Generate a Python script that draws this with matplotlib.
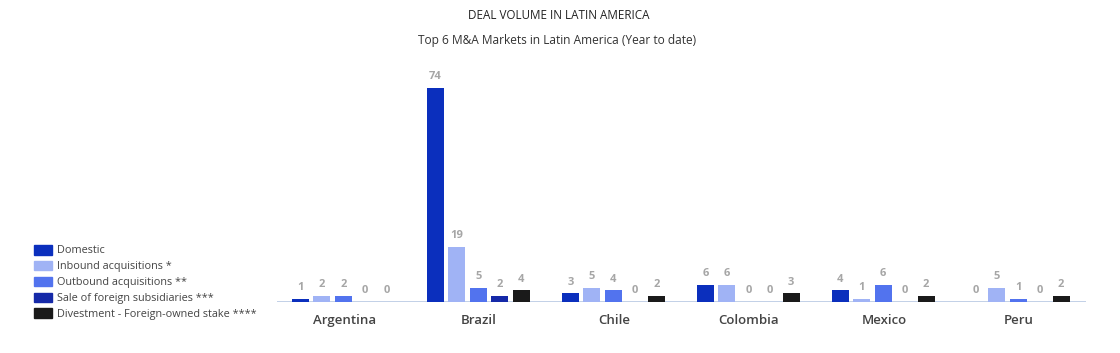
import matplotlib.pyplot as plt
import matplotlib.patches as mpatches
import numpy as np

plt.rcParams['font.family'] = ['Open Sans', 'DejaVu Sans']

countries = ["Argentina", "Brazil", "Chile", "Colombia", "Mexico", "Peru"]
series_names = ["Domestic", "Inbound acquisitions *", "Outbound acquisitions **",
                "Sale of foreign subsidiaries ***", "Divestment - Foreign-owned stake ****"]
domestic = [1, 74, 3, 6, 4, 0]
inbound = [2, 19, 5, 6, 1, 5]
outbound = [2, 5, 4, 0, 6, 1]
sale_foreign = [0, 2, 0, 0, 0, 0]
divestment = [0, 4, 2, 3, 2, 2]
colors = ["#0b2fbd", "#a0b3f5", "#5273ee", "#1529a8", "#1a1a1a"]

series = [domestic, inbound, outbound, sale_foreign, divestment]

fig = plt.figure(figsize=(11.2, 3.53), dpi=100)
ax = fig.add_axes([0.247, 0.1445, 0.723, 0.655])

x = np.arange(len(countries))
width = 0.126
step = 0.159
ax.axhline(0, color="#b7c8e3", lw=1.2, zorder=1)
for i, (vals, c) in enumerate(zip(series, colors)):
    pos = x + (i - 2) * step - 0.005
    ax.bar(pos, vals, width=width, color=c, zorder=2)
    for p, v in zip(pos, vals):
        ax.text(p, v + 2.0, str(v), ha="center", va="bottom", fontsize=8,
                color="#a6a6a6", fontweight="bold")

ax.set_xlim(-0.5, 5.5)
ax.set_ylim(0, 80)
ax.set_xticks(x)
ax.set_xticklabels(countries, fontsize=9.5, color="#444444", fontweight="semibold")
ax.tick_params(axis="x", length=0, pad=9)
ax.set_yticks([])
for s in ax.spines.values():
    s.set_visible(False)

fig.text(0.499, 0.957, "DEAL VOLUME IN LATIN AMERICA", ha="center", va="center",
         fontsize=8.4, color="#222222")
fig.text(0.497, 0.886, "Top 6 M&A Markets in Latin America (Year to date)", ha="center",
         va="center", fontsize=8.6, color="#333333")

handles = [mpatches.Patch(color=c, label=n) for c, n in zip(colors, series_names)]
fig.legend(handles=handles, loc="lower left", bbox_to_anchor=(0.022, 0.066),
           frameon=False, fontsize=7.8, handlelength=1.6, handleheight=1.0,
           handletextpad=0.45, labelspacing=0.4, labelcolor="#444444")

plt.savefig("out.png", dpi=100)
